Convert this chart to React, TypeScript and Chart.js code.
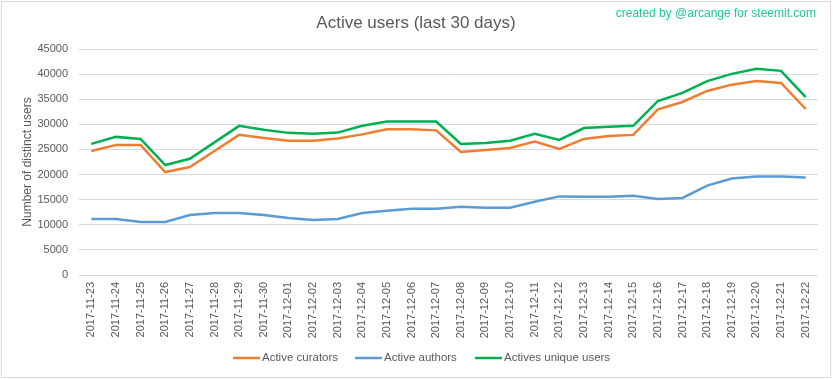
import React, { useEffect, useRef } from "react";
import { Chart, registerables } from "chart.js";

Chart.register(...registerables);

const categories = [
  "2017-11-23", "2017-11-24", "2017-11-25", "2017-11-26", "2017-11-27", "2017-11-28",
  "2017-11-29", "2017-11-30", "2017-12-01", "2017-12-02", "2017-12-03", "2017-12-04",
  "2017-12-05", "2017-12-06", "2017-12-07", "2017-12-08", "2017-12-09", "2017-12-10",
  "2017-12-11", "2017-12-12", "2017-12-13", "2017-12-14", "2017-12-15", "2017-12-16",
  "2017-12-17", "2017-12-18", "2017-12-19", "2017-12-20", "2017-12-21", "2017-12-22",
];

const activeCurators = [
  24700, 25900, 25900, 20500, 21500, 24700, 27900, 27300, 26750, 26750,
  27200, 28000, 29000, 29000, 28800, 24500, 24900, 25300, 26550, 25100,
  27100, 27700, 27900, 33000, 34450, 36650, 37900, 38650, 38250, 33050,
];

const activeAuthors = [
  11150, 11150, 10550, 10550, 11950, 12350, 12350, 11950, 11350, 10950,
  11150, 12350, 12800, 13200, 13200, 13600, 13400, 13400, 14600, 15650,
  15600, 15600, 15800, 15150, 15350, 17800, 19200, 19600, 19600, 19400,
];

const activeUniqueUsers = [
  26100, 27500, 27100, 21900, 23150, 26400, 29700, 28900, 28300, 28150,
  28350, 29700, 30550, 30550, 30550, 26100, 26300, 26750, 28100, 26900,
  29250, 29500, 29700, 34650, 36250, 38600, 40050, 41050, 40650, 35400,
];

const yTicks = [0, 5000, 10000, 15000, 20000, 25000, 30000, 35000, 40000, 45000];

const seriesNames = ["Active curators", "Active authors", "Actives unique users"];
const seriesColors = ["#ED7D31", "#5B9BD5", "#00B050"];

const TITLE = "Active users (last 30 days)";
const CREDIT = "created by @arcange for steemit.com";
const Y_TITLE = "Number of distinct users";

const FONT = "'Liberation Sans', Arial, sans-serif";
const TEXT_COLOR = "#595959";
const GRID_COLOR = "#d9d9d9";

const decorPlugin = {
  id: "decor",
  beforeDraw(chart: any) {
    const ctx = chart.ctx;
    ctx.save();
    ctx.fillStyle = "#ffffff";
    ctx.fillRect(0, 0, chart.width, chart.height);
    ctx.strokeStyle = GRID_COLOR;
    ctx.lineWidth = 1;
    ctx.strokeRect(1.5, 1.5, 829, 376);
    ctx.restore();
  },
  afterDraw(chart: any) {
    const ctx = chart.ctx;
    ctx.save();
    // Title
    ctx.fillStyle = TEXT_COLOR;
    ctx.font = `17px ${FONT}`;
    ctx.textAlign = "center";
    ctx.textBaseline = "middle";
    ctx.fillText(TITLE, 416, 23);
    // Credit
    ctx.fillStyle = "#1ec89c";
    ctx.font = `12px ${FONT}`;
    ctx.textAlign = "right";
    ctx.fillText(CREDIT, 816, 14);
    // Legend
    const legendY = 358;
    const starts = [233, 355, 475];
    ctx.font = `11.5px ${FONT}`;
    ctx.textAlign = "left";
    chart.data.datasets.forEach((ds: any, i: number) => {
      const x = starts[i];
      ctx.strokeStyle = ds.borderColor;
      ctx.lineWidth = 2.5;
      ctx.beginPath();
      ctx.moveTo(x, legendY);
      ctx.lineTo(x + 27, legendY);
      ctx.stroke();
      ctx.fillStyle = TEXT_COLOR;
      ctx.fillText(ds.label, x + 29, legendY);
    });
    ctx.restore();
  },
};

export default function App() {
  const canvasRef = useRef<HTMLCanvasElement | null>(null);

  useEffect(() => {
    document.body.style.margin = "0";
    const canvas = canvasRef.current;
    if (!canvas) return;
    const seriesData = [activeCurators, activeAuthors, activeUniqueUsers];
    const chart = new Chart(canvas, {
      type: "line",
      data: {
        labels: categories,
        datasets: seriesData.map((d, i) => ({
          label: seriesNames[i],
          data: d,
          borderColor: seriesColors[i],
          backgroundColor: seriesColors[i],
          borderWidth: 2.5,
          pointRadius: 0,
          pointHoverRadius: 0,
          tension: 0,
          fill: false,
        })),
      },
      options: {
        animation: false,
        responsive: false,
        maintainAspectRatio: false,
        events: [],
        layout: { padding: { top: 49, left: 0, right: 15, bottom: 0 } },
        plugins: {
          legend: { display: false },
          title: { display: false },
          tooltip: { enabled: false },
        },
        scales: {
          x: {
            type: "category",
            offset: true,
            grid: { display: false, drawTicks: false },
            border: { display: false },
            ticks: {
              minRotation: 90,
              maxRotation: 90,
              autoSkip: false,
              padding: 7,
              color: TEXT_COLOR,
              font: { family: FONT, size: 11 },
            },
            afterFit(scale: any) {
              scale.height = 104;
            },
          },
          y: {
            min: 0,
            max: 45000,
            afterBuildTicks(scale: any) {
              scale.ticks = yTicks.map((v) => ({ value: v }));
            },
            grid: { color: GRID_COLOR, lineWidth: 1, drawTicks: false },
            border: { display: false },
            ticks: {
              padding: 11,
              color: TEXT_COLOR,
              font: { family: FONT, size: 11 },
              callback: (v: any) => String(v),
            },
            title: {
              display: true,
              text: Y_TITLE,
              color: TEXT_COLOR,
              font: { family: FONT, size: 12 },
              padding: { top: 20, bottom: 0 },
            },
            afterFit(scale: any) {
              scale.width = 79;
            },
          },
        },
      },
      plugins: [decorPlugin],
    });
    return () => chart.destroy();
  }, []);

  return (
    <div style={{ width: 833, height: 379 }}>
      <canvas ref={canvasRef} width={833} height={379} style={{ display: "block" }} />
    </div>
  );
}
